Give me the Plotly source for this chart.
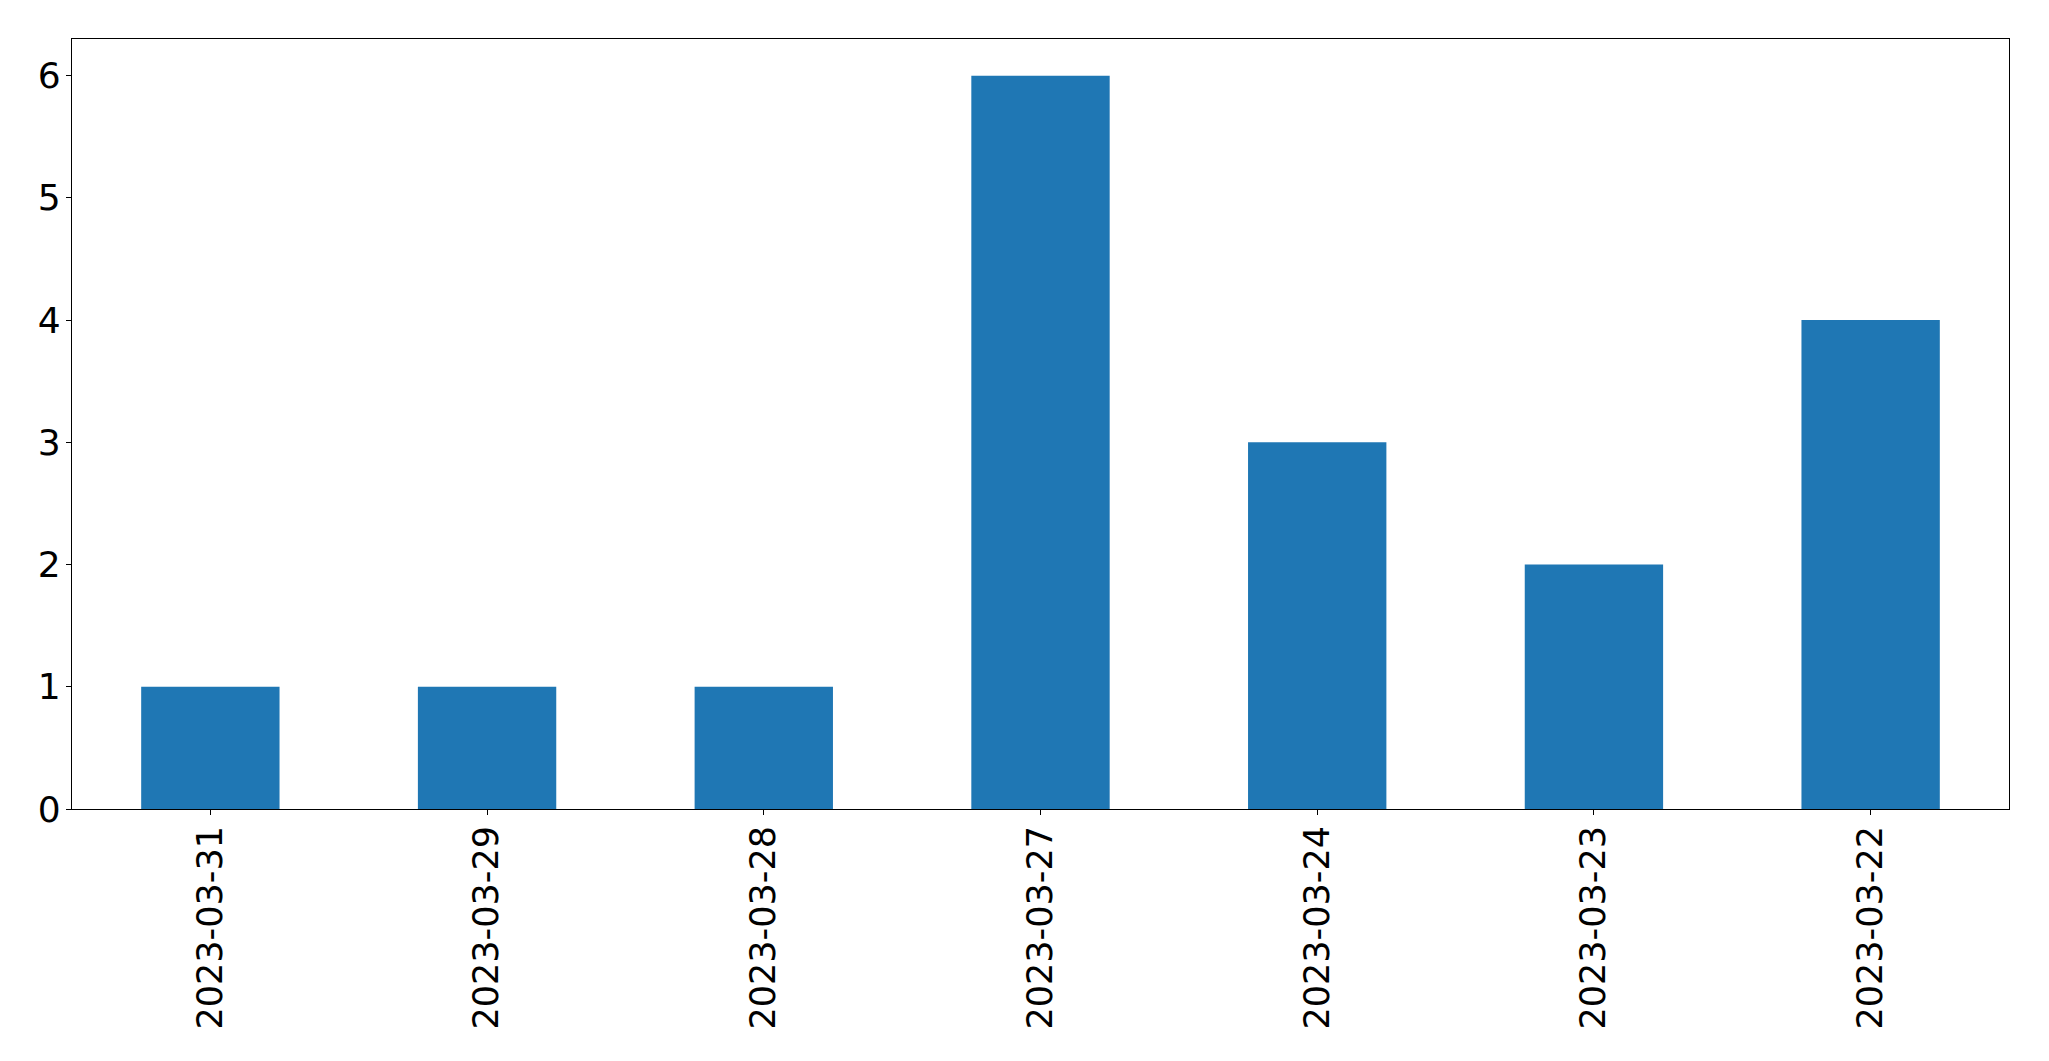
import plotly.graph_objects as go

dates = ["2023-03-31", "2023-03-29", "2023-03-28", "2023-03-27", "2023-03-24", "2023-03-23", "2023-03-22"]
counts = [1, 1, 1, 6, 3, 2, 4]
y_ticks = [0, 1, 2, 3, 4, 5, 6]

fig = go.Figure(go.Bar(x=dates, y=counts, marker=dict(color="#1f77b4", line=dict(width=0)), width=0.5))

font = dict(family="DejaVu Sans", size=35, color="black")
yfont = dict(family="DejaVu Sans", size=36, color="black")
fig.update_layout(
    width=2041, height=1053,
    margin=dict(l=64, r=40, t=31, b=252),
    paper_bgcolor="white", plot_bgcolor="white",
    showlegend=False,
    font=font,
)
fig.update_xaxes(
    type="category", range=[-0.5, 6.5], tickangle=-90, automargin=False,
    showline=True, mirror=True, linecolor="black", linewidth=1.1,
    ticks="outside", ticklen=5, tickwidth=1.1, tickcolor="black",
    showgrid=False, zeroline=False, tickfont=font, ticklabelstandoff=-3,
)
fig.update_yaxes(
    range=[0, 6.3], tickvals=y_ticks, ticktext=[str(v) for v in y_ticks], automargin=False,
    showline=True, mirror=True, linecolor="black", linewidth=1.1,
    ticks="outside", ticklen=5, tickwidth=1.1, tickcolor="black",
    showgrid=False, zeroline=False, tickfont=yfont, ticklabelstandoff=-2,
)
fig.write_html("out.html")
